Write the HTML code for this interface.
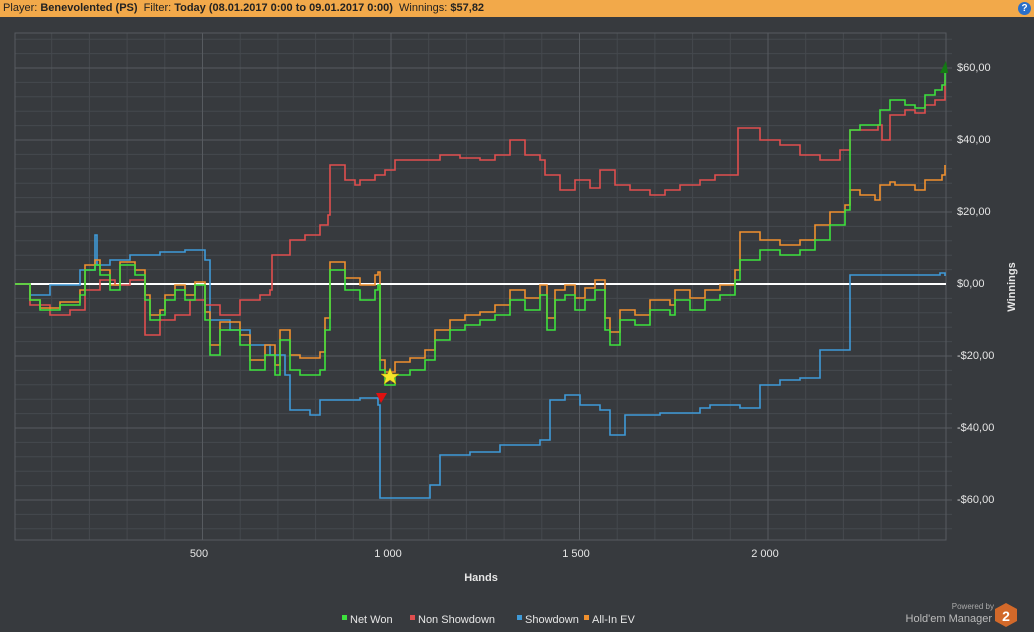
<!DOCTYPE html>
<html><head><meta charset="utf-8"><style>
body{margin:0;width:1034px;height:632px;background:#373a3e;font-family:"Liberation Sans",sans-serif;overflow:hidden;position:relative}
.hdr{position:absolute;left:0;top:0;width:1034px;height:17px;background:#f2a94a;font-size:11px;line-height:17px;color:#222}
.hdr b{font-weight:bold}
.q{position:absolute;right:3px;top:2px;width:13px;height:13px;border-radius:50%;background:#2a6fc9;color:#fff;font-size:10px;line-height:13px;text-align:center;font-weight:bold}
</style></head><body>
<div class="hdr">&nbsp;Player: <b>Benevolented (PS)</b>&nbsp; Filter: <b>Today (08.01.2017 0:00 to 09.01.2017 0:00)</b>&nbsp; Winnings: <b>$57,82</b><div class="q">?</div></div>
<svg width="1034" height="632" style="position:absolute;left:0;top:0" font-family="Liberation Sans, sans-serif">
<path stroke="#45494e" stroke-width="1" fill="none" d="M51.7,33V540M89.4,33V540M127.1,33V540M164.8,33V540M240.2,33V540M277.9,33V540M315.6,33V540M353.3,33V540M428.7,33V540M466.4,33V540M504.1,33V540M541.8,33V540M617.2,33V540M654.9,33V540M692.6,33V540M730.3,33V540M805.7,33V540M843.4,33V540M881.1,33V540M918.8,33V540
M15,39.2H952M15,53.6H952M15,82.4H952M15,96.8H952M15,111.2H952M15,125.6H952M15,154.4H952M15,168.8H952M15,183.2H952M15,197.6H952M15,226.4H952M15,240.8H952M15,255.2H952M15,269.6H952M15,298.4H952M15,312.8H952M15,327.2H952M15,341.6H952M15,370.4H952M15,384.8H952M15,399.2H952M15,413.6H952M15,442.4H952M15,456.8H952M15,471.2H952M15,485.6H952M15,514.4H952M15,528.8H952"/>
<path stroke="#575b60" stroke-width="1" fill="none" d="M202.5,33V540M391,33V540M579.5,33V540M768,33V540M15,68H952M15,140H952M15,212H952M15,356H952M15,428H952M15,500H952"/>
<rect x="15" y="33" width="931" height="507" fill="none" stroke="#575b60"/>
<line x1="15" y1="284" x2="946" y2="284" stroke="#fff" stroke-width="2"/>
<g fill="none" stroke-width="1.6">
<path stroke="#3f9ad8" d="M15,284H30V295H50V285H80V270H95V235H97V265H110V260H130V255H160V252H185V250H205V260H210V320H230V330H250V345H270V355H285V375H290V410H310V415H320V400H360V398H378V405H380V498H420V498H430V485H440V455H470V452H500V445H540V440H550V400H565V395H580V405H600V410H610V435H625V415H660V413H700V408H710V405H740V408H760V385H780V380H800V378H820V350H845V350H850V275H940V273H945V276"/>
<path stroke="#e04e4e" d="M15,284H30V305H50V315H70V310H85V290H100V280H115V285H130V280H145V335H160V320H175V315H190V300H205V305H220V315H240V300H260V295H270V290H272V255H290V240H305V235H320V225H328V215H330V165H345V180H355V185H360V180H375V175H385V170H395V160H420V160H440V155H460V158H480V160H495V155H510V140H525V155H540V160H545V175H560V190H575V180H590V188H600V170H615V185H630V190H650V195H665V190H680V185H700V180H715V175H735V175H738V128H760V140H780V145H800V155H820V160H840V150H850V130H865V130H878V125H882V140H890V115H905V110H915V113H925V105H935V100H945V80"/>
<path stroke="#f0902e" d="M15,284H30V300H40V308H60V302H80V290H85V265H95V260H100V270H110V285H120V262H135V270H145V295H150V315H160V310H165V295H175V285H185V295H195V282H205V312H210V345H220V322H240V335H250V360H265V345H275V365H280V330H290V355H300V358H320V352H325V318H330V262H345V278H360V285H375V275H378V272H380V360H385V372H395V362H410V358H425V350H435V330H450V320H465V315H480V312H495V305H510V290H525V298H540V285H547V318H555V290H565V285H575V298H585V288H595V280H605V318H610V332H620V310H635V315H650V300H670V305H675V290H690V298H705V290H720V285H735V270H740V232H760V240H780V245H800V240H815V225H830V212H845V205H850V190H860V195H875V200H880V185H890V182H895V185H905V185H915V190H925V180H935V180H942V175H945V165"/>
<path stroke="#3de23d" d="M15,284H30V300H40V310H60V305H80V295H85V270H95V265H100V275H110V290H120V265H135V275H145V300H150V320H160V315H165V300H175V290H185V300H195V285H205V320H210V355H220V330H240V345H250V370H265V355H275V375H280V340H290V370H300V375H320V370H325V330H330V270H345V290H360V300H375V290H378V285H380V370H385V385H395V375H410V370H425V360H435V340H450V330H465V325H480V320H495V315H510V300H525V310H540V295H547V330H555V300H565V295H575V310H585V300H595V290H605V330H610V345H620V320H635V325H650V310H670V315H675V300H690V310H705V300H720V295H735V280H740V260H760V250H780V255H800V250H815V240H830V225H845V210H850V130H860V125H875V125H880V110H890V100H905V105H915V108H925V95H935V90H942V85H945V65"/>
</g>
<polygon points="376,393 387,393 381,403" fill="#e01010"/>
<polygon points="390,368 392.5,374 399,374 394,378 396,384 390,380 384,384 386,378 381,374 387.5,374" fill="#f5e62a" stroke="#c8a000" stroke-width="0.5"/>
<polygon points="940,73 946,61 948,73" fill="#137a13"/>
<g fill="#e6e6e6" font-size="11">
<text x="957" y="71">$60,00</text><text x="957" y="143">$40,00</text><text x="957" y="215">$20,00</text><text x="957" y="287">$0,00</text>
<text x="957" y="359">-$20,00</text><text x="957" y="431">-$40,00</text><text x="957" y="503">-$60,00</text>
<text x="199" y="557" text-anchor="middle">500</text><text x="388" y="557" text-anchor="middle">1 000</text><text x="576" y="557" text-anchor="middle">1 500</text><text x="765" y="557" text-anchor="middle">2 000</text>
<text x="481" y="581" text-anchor="middle" font-weight="bold" font-size="11">Hands</text>
<text transform="translate(1015,287) rotate(-90)" text-anchor="middle" font-weight="bold">Winnings</text>
</g>
<g font-size="11" fill="#e6e6e6">
<rect x="342" y="615" width="5" height="5" fill="#3de23d"/><text x="350" y="623">Net Won</text>
<rect x="410" y="615" width="5" height="5" fill="#e04e4e"/><text x="418" y="623">Non Showdown</text>
<rect x="517" y="615" width="5" height="5" fill="#3f9ad8"/><text x="525" y="623">Showdown</text>
<rect x="584" y="615" width="5" height="5" fill="#f0902e"/><text x="592" y="623">All-In EV</text>
</g>
<text x="994" y="609" font-size="8" fill="#aaa" text-anchor="end">Powered by</text>
<text x="992" y="622" font-size="11" fill="#bbb" text-anchor="end">Hold'em Manager</text>
<polygon points="1006,603 1017,609 1017,621 1006,627 995,621 995,609" fill="#d2692a"/>
<text x="1006" y="621" font-size="14" font-weight="bold" fill="#fff" text-anchor="middle">2</text>
</svg>
</body></html>
